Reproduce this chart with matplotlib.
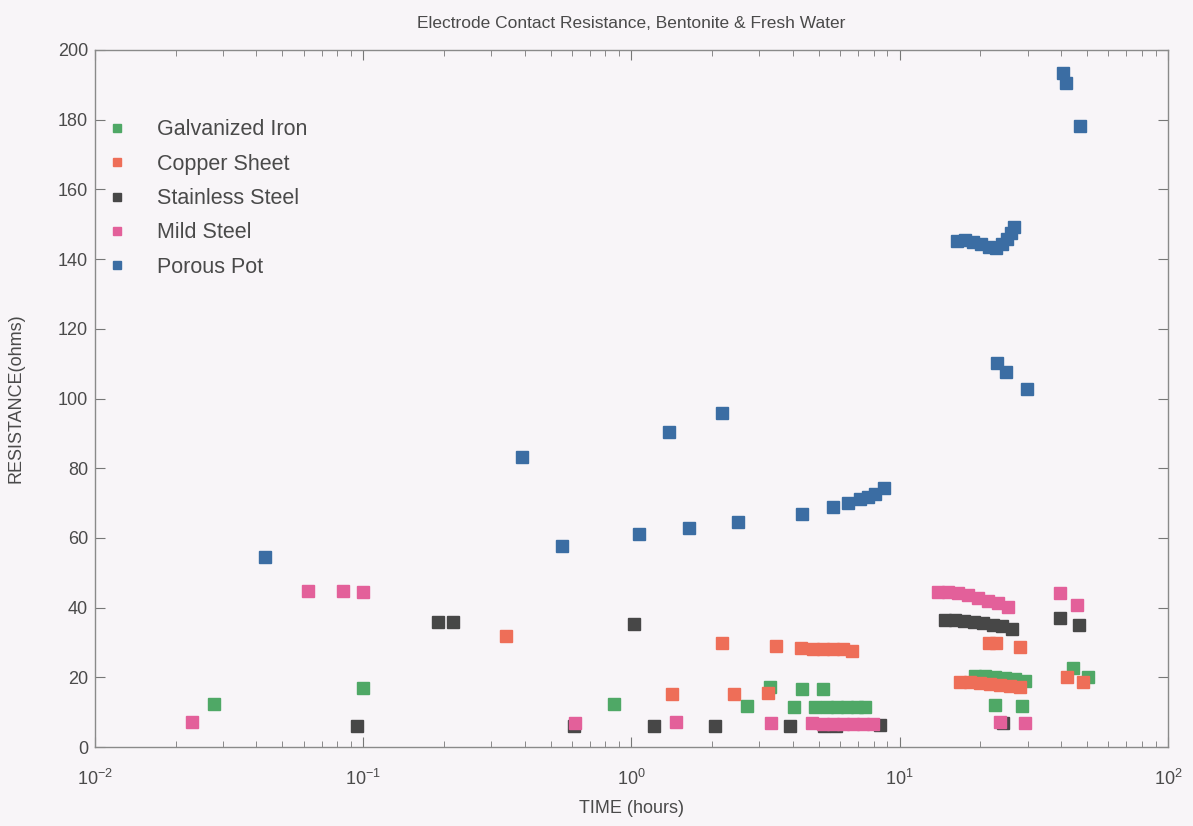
import matplotlib
matplotlib.use("Agg")
import matplotlib.pyplot as plt

plt.rcParams['font.family'] = ['Liberation Sans', 'DejaVu Sans']
plt.rcParams['mathtext.fontset'] = 'custom'
plt.rcParams['mathtext.rm'] = 'Liberation Sans'
plt.rcParams['mathtext.it'] = 'Liberation Sans'

# Elapsed time (hours) and contact resistance (ohms) for each electrode
galv_t = [0.0277, 0.100, 0.861, 2.70, 3.28, 4.04, 4.32, 4.83, 5.18, 5.36, 5.83, 6.36, 6.93, 7.42,
          19.1, 20.8, 22.7, 24.7, 26.9, 29.4, 22.6, 28.6, 44.2, 50.3]
galv_r = [12.3, 16.9, 12.3, 11.8, 17.2, 11.5, 16.6, 11.5, 16.6, 11.5, 11.5, 11.5, 11.5, 11.5,
          20.5, 20.4, 20.2, 19.8, 19.4, 19.0, 12.1, 11.8, 22.7, 20.1]

copper_t = [0.340, 1.42, 2.17, 2.41, 3.23, 3.46, 4.28, 4.75, 5.18, 5.64, 6.14, 6.64,
            16.8, 18.3, 19.9, 21.7, 23.6, 25.8, 28.1, 21.5, 22.8, 28.1, 42.0, 48.2]
copper_r = [31.9, 15.2, 29.8, 15.2, 15.5, 29.0, 28.4, 28.1, 28.1, 28.1, 28.1, 27.5,
            18.7, 18.6, 18.4, 18.2, 17.9, 17.6, 17.2, 29.8, 29.8, 28.7, 20.1, 18.7]

stainless_t = [0.0948, 0.190, 0.216, 0.61, 1.02, 1.21, 2.05, 3.90, 5.2, 5.8, 8.44,
               14.8, 16.1, 17.4, 18.9, 20.4, 22.3, 24.1, 26.2, 24.3, 39.6, 46.6]
stainless_r = [6.0, 35.9, 35.9, 6.0, 35.3, 6.0, 6.0, 6.0, 6.0, 6.0, 6.3,
               36.5, 36.4, 36.2, 36.0, 35.6, 35.1, 34.6, 34.0, 6.9, 37.0, 35.0]

mild_t = [0.0230, 0.0622, 0.0841, 0.0998, 0.615, 1.47, 3.31, 4.71, 5.18, 5.64, 6.14, 6.68, 7.27, 7.92,
          13.9, 15.1, 16.5, 17.9, 19.6, 21.3, 23.2, 25.3, 23.6, 29.3, 39.6, 45.8]
mild_r = [7.2, 44.8, 44.8, 44.5, 6.9, 7.2, 6.9, 6.9, 6.6, 6.6, 6.6, 6.6, 6.6, 6.6,
          44.6, 44.5, 44.2, 43.6, 42.8, 42.0, 41.2, 40.3, 7.2, 6.9, 44.2, 40.7]

porous_t = [0.0431, 0.391, 0.551, 1.066, 1.38, 1.64, 2.17, 2.49, 4.32, 5.64, 6.41, 7.11, 7.62, 8.10, 8.75,
            16.3, 17.5, 18.8, 20.1, 21.5, 22.9, 24.1, 25.1, 26.0, 26.7,
            23.0, 24.9, 29.8, 40.6, 41.7, 46.9]
porous_r = [54.5, 83.2, 57.7, 61.1, 90.4, 62.8, 95.8, 64.6, 66.9, 68.9, 70.0, 71.2, 71.7, 72.6, 74.3,
            145.2, 145.4, 145.0, 144.3, 143.5, 143.3, 144.2, 145.8, 147.5, 149.3,
            110.2, 107.6, 102.7, 193.4, 190.5, 178.2]

series = [
    ("Galvanized Iron", galv_t, galv_r, "#4fa866"),
    ("Copper Sheet", copper_t, copper_r, "#ee6e58"),
    ("Stainless Steel", stainless_t, stainless_r, "#474747"),
    ("Mild Steel", mild_t, mild_r, "#e3609a"),
    ("Porous Pot", porous_t, porous_r, "#3b6da3"),
]

bg = "#f8f5f8"
text_col = "#4a4a4a"

fig = plt.figure(figsize=(11.93, 8.26), dpi=100, facecolor=bg)
ax = fig.add_axes([0.0796, 0.0956, 0.8994, 0.8439], facecolor=bg)

for name, t, r, c in series:
    ax.plot(t, r, linestyle="none", marker="s", markersize=8.5,
            markerfacecolor=c, markeredgecolor=c, label=name)

ax.set_xscale("log")
ax.set_xlim(1e-2, 1e2)
ax.set_ylim(0, 200)
ax.set_yticks(range(0, 201, 20))

ax.tick_params(which="both", direction="in", top=True, right=True,
               colors="#777777", labelcolor=text_col, labelsize=13)
ax.tick_params(which="major", length=7)
ax.tick_params(which="minor", length=4)
ax.tick_params(axis="x", which="major", pad=16)
ax.tick_params(axis="y", which="major", pad=5)
for s in ax.spines.values():
    s.set_color("#8a8a8a")
    s.set_linewidth(1.0)

ax.set_title("Electrode Contact Resistance, Bentonite & Fresh Water",
             fontsize=12.5, color=text_col, pad=16)
ax.set_xlabel("TIME (hours)", fontsize=13, color=text_col, labelpad=8)
ax.set_ylabel("RESISTANCE(ohms)", fontsize=13, color=text_col, labelpad=24)

leg = ax.legend(loc="upper left", bbox_to_anchor=(-0.004, 0.922), frameon=False,
                fontsize=15.5, handlelength=1.0, handletextpad=1.4,
                labelspacing=0.62, markerscale=0.7, borderaxespad=0.3)
for txt in leg.get_texts():
    txt.set_color(text_col)

fig.savefig("out.png", dpi=100, facecolor=bg)
